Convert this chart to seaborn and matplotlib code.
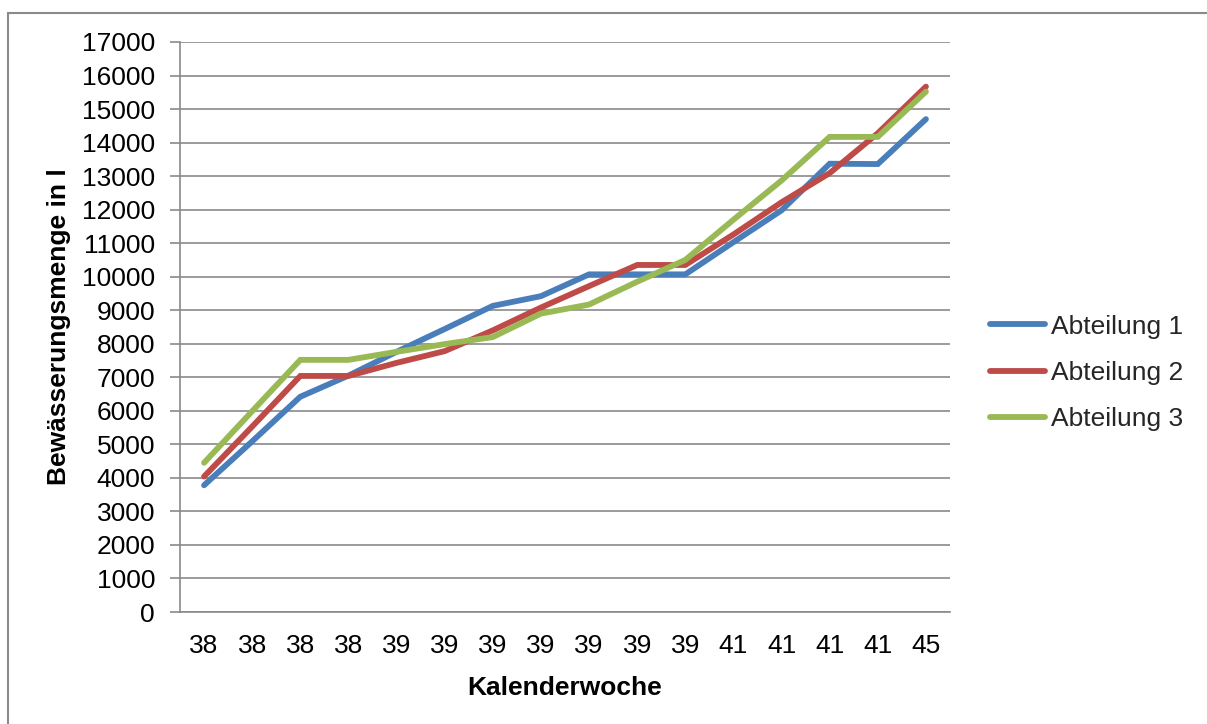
import matplotlib
matplotlib.use("Agg")
import matplotlib.pyplot as plt
import seaborn as sns
import pandas as pd
from matplotlib.patches import Rectangle

# Data
kalenderwoche = ["38", "38", "38", "38", "39", "39", "39", "39", "39", "39", "39",
                 "41", "41", "41", "41", "45"]
abteilung_1 = [3780, 5090, 6420, 7050, 7760, 8440, 9130, 9420, 10070, 10070, 10070,
               11030, 11980, 13370, 13360, 14700]
abteilung_2 = [4040, 5530, 7040, 7040, 7430, 7780, 8400, 9080, 9720, 10350, 10350,
               11260, 12220, 13090, 14280, 15670]
abteilung_3 = [4450, 5990, 7520, 7520, 7760, 7990, 8200, 8900, 9170, 9850, 10500,
               11700, 12870, 14170, 14170, 15520]
series_names = ["Abteilung 1", "Abteilung 2", "Abteilung 3"]
colors = ["#4A7EBB", "#BE4B48", "#98B954"]

rows = []
for name, vals in zip(series_names, [abteilung_1, abteilung_2, abteilung_3]):
    for i, v in enumerate(vals):
        rows.append({"pos": i, "wert": v, "serie": name})
df = pd.DataFrame(rows)

sns.set_theme(style="white")
plt.rcParams["font.family"] = ["Liberation Sans", "DejaVu Sans"]

FS = 19
LW = 4.2

fig = plt.figure(figsize=(12.07, 7.24), dpi=100)
ax = fig.add_axes([180 / 1207, 1 - 612 / 724, 770 / 1207, 570 / 724])

sns.lineplot(data=df, x="pos", y="wert", hue="serie", palette=colors,
             linewidth=LW, ax=ax, legend=False, sort=False)
for line in ax.lines:
    line.set_solid_capstyle("round")
    line.set_solid_joinstyle("miter")

ax.set_xlim(-0.5, len(kalenderwoche) - 0.5)
ax.set_ylim(0, 17000)
ax.set_yticks(range(0, 17001, 1000))
ax.set_yticklabels([str(v) for v in range(0, 17001, 1000)])
ax.set_xticks(range(len(kalenderwoche)))
ax.set_xticklabels(kalenderwoche)

ax.yaxis.grid(True, color="#8A8A8A", linewidth=1.2)
ax.xaxis.grid(False)
ax.set_axisbelow(True)
for s in ["top", "right"]:
    ax.spines[s].set_visible(False)
for s in ["left", "bottom"]:
    ax.spines[s].set_color("#8A8A8A")
    ax.spines[s].set_linewidth(1.2)

ax.tick_params(axis="y", which="major", left=True, length=7, width=1.2,
               color="#8A8A8A", labelsize=FS, pad=11, labelcolor="black")
ax.tick_params(axis="x", which="major", bottom=False, length=0,
               labelsize=FS, pad=16, labelcolor="black")

ax.set_xlabel("Kalenderwoche", fontsize=FS, fontweight="bold", color="black")
ax.set_ylabel("Bewässerungsmenge in l", fontsize=FS, fontweight="bold", color="black")
ax.xaxis.set_label_coords(0.5, -0.112)
ax.yaxis.set_label_coords(-0.142, 0.5)

handles = [plt.Line2D([], [], color=c, linewidth=LW, solid_capstyle="round") for c in colors]
fig.legend(handles, series_names, loc="center left",
           bbox_to_anchor=(990 / 1207, 1 - 373 / 724), frameon=False,
           fontsize=FS, handlelength=2.1, handletextpad=0.2,
           labelspacing=0.85, borderpad=0, borderaxespad=0)

# outer chart frame (left and top edges visible)
fig.patches.append(Rectangle((8 / 1207, -0.1), 1.2, 1 - 13 / 724 + 0.1,
                             transform=fig.transFigure, fill=False,
                             edgecolor="#8A8A8A", linewidth=1.5))

fig.savefig("out.png", dpi=100)
